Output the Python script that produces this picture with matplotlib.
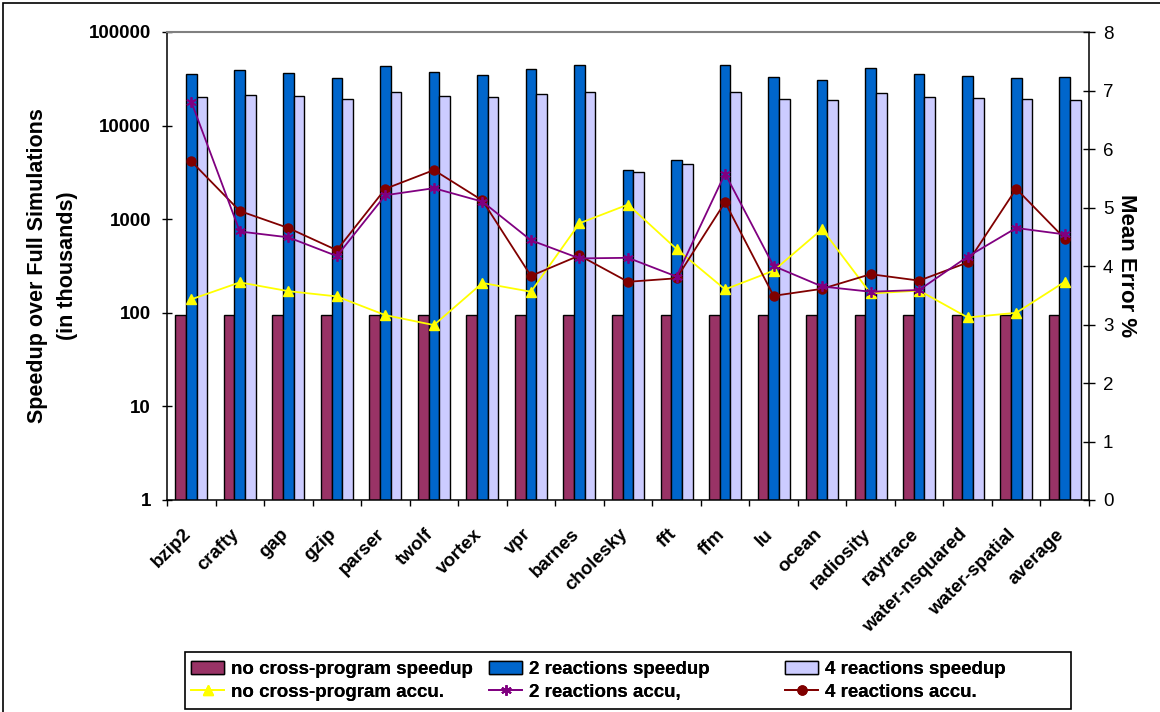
import matplotlib
matplotlib.use("Agg")
import matplotlib.pyplot as plt
import matplotlib.transforms as mtransforms
import numpy as np
from matplotlib.patches import Rectangle

plt.rcParams['font.family'] = ['Liberation Sans', 'DejaVu Sans']

benchmarks = ["bzip2", "crafty", "gap", "gzip", "parser", "twolf", "vortex", "vpr",
              "barnes", "cholesky", "fft", "ffm", "lu", "ocean", "radiosity",
              "raytrace", "water-nsquared", "water-spatial", "average"]

# speedup over full simulation (thousands), log scale
speedup_none = [95] * 19
speedup_2r = [35600, 39000, 36200, 32500, 43000, 37400, 35000, 40300, 44000, 3380,
              4260, 44400, 32800, 30500, 41600, 35600, 33900, 32000, 33300]
speedup_4r = [20400, 21400, 20600, 19400, 22700, 20900, 20200, 21800, 22900, 3170,
              3890, 23000, 19400, 18600, 22100, 20400, 19900, 19100, 18900]

# mean error %
accu_none = [3.43, 3.72, 3.57, 3.48, 3.16, 2.99, 3.71, 3.56, 4.73, 5.05,
             4.29, 3.60, 3.92, 4.63, 3.53, 3.58, 3.12, 3.20, 3.73]
accu_2r = [6.81, 4.59, 4.49, 4.17, 5.21, 5.33, 5.10, 4.44, 4.13, 4.14,
           3.82, 5.58, 4.00, 3.65, 3.56, 3.59, 4.16, 4.65, 4.54]
accu_4r = [5.79, 4.94, 4.65, 4.27, 5.32, 5.64, 5.12, 3.83, 4.18, 3.73,
           3.79, 5.09, 3.49, 3.61, 3.86, 3.75, 4.06, 5.32, 4.47]

C_NONE = "#993366"
C_2R = "#0066CC"
C_4R = "#CCCCFF"
L_NONE = "#FFFF00"
L_2R = "#800080"
L_4R = "#800000"

W, H = 1160, 712
fig = plt.figure(figsize=(W / 100, H / 100), dpi=100)
ax = fig.add_axes([167 / W, 1 - 500 / H, (1089 - 167) / W, (500 - 32) / H])

x = np.arange(len(benchmarks))
bw = 0.22
kw = dict(edgecolor="black", linewidth=1.0)
b1 = ax.bar(x - bw, speedup_none, bw, color=C_NONE, label="no cross-program speedup", **kw)
b2 = ax.bar(x, speedup_2r, bw, color=C_2R, label="2 reactions speedup", **kw)
b3 = ax.bar(x + bw, speedup_4r, bw, color=C_4R, label="4 reactions speedup", **kw)

ax.set_yscale("log")
ax.set_ylim(1, 100000)
ax.set_xlim(-0.5, len(benchmarks) - 0.5)
ax.set_yticks([1, 10, 100, 1000, 10000, 100000])
ax.set_yticklabels(["1", "10", "100", "1000", "10000", "100000"],
                   fontsize=13.5, fontweight="bold")
ax.yaxis.set_minor_locator(matplotlib.ticker.NullLocator())
ax.tick_params(axis="y", direction="inout", length=7, width=1, pad=8)

ax.set_xticks(np.arange(-0.5, len(benchmarks), 1.0))
ax.set_xticklabels([])
ax.tick_params(axis="x", which="major", direction="out", length=4.5, width=1)
ax.set_xticks(x, minor=True)
ax.set_xticklabels(benchmarks, minor=True, rotation=45, ha="right", va="top",
                   rotation_mode="anchor", fontsize=13.5, fontweight="bold")
ax.tick_params(axis="x", which="minor", length=0, pad=12)
shift = mtransforms.ScaledTranslation(-0.09, -0.09, fig.dpi_scale_trans)
for lab in ax.get_xticklabels(minor=True):
    lab.set_transform(lab.get_transform() + shift)

ax.set_ylabel("Speedup over Full Simulations\n(in thousands)", fontsize=15.5,
              fontweight="bold", labelpad=8, linespacing=1.55)

for s in ("left", "bottom", "right"):
    ax.spines[s].set_color("black")
    ax.spines[s].set_linewidth(1.1)
ax.spines["top"].set_color("#808080")
ax.spines["top"].set_linewidth(1.5)

ax2 = ax.twinx()
ax2.set_ylim(0, 8)
ax2.set_yticks(range(0, 9))
ax2.set_yticklabels([str(i) for i in range(9)], fontsize=13.5)
ax2.tick_params(axis="y", direction="inout", length=8, width=1, pad=6)
ax2.set_ylabel("Mean Error %", fontsize=16, fontweight="bold", rotation=270,
               labelpad=17)
for s in ax2.spines.values():
    s.set_visible(False)

l1, = ax2.plot(x, accu_none, color=L_NONE, lw=1.3, marker="^", ms=7,
               label="no cross-program accu.")
l3, = ax2.plot(x, accu_4r, color=L_4R, lw=1.3, marker="o", ms=6.5,
               label="4 reactions accu.")
l2, = ax2.plot(x, accu_2r, color=L_2R, lw=1.3, marker=(6, 2, 0), ms=7.5, mew=1.3,
               label="2 reactions accu,")

# legend: framed box with three columns of two entries each
fig.patches.append(Rectangle((185 / W, 1 - 709 / H), (1071 - 185) / W, (709 - 652) / H,
                             transform=fig.transFigure, fill=False,
                             edgecolor="black", linewidth=1.2, zorder=5))
columns = [((b1, l1), 191), ((b2, l2), 489), ((b3, l3), 785)]
for hs, xpix in columns:
    lg = fig.legend(list(hs), [h.get_label() for h in hs], loc="center left",
                    bbox_to_anchor=(xpix / W, 1 - 681 / H), frameon=False,
                    borderpad=0, borderaxespad=0, handlelength=1.76,
                    handletextpad=0.37, labelspacing=0.28,
                    prop=dict(size=13.5, weight="bold"))
    fig.add_artist(lg)

# outer border of the figure
fig.patches.append(Rectangle((3 / W, -0.05), 1.1, 1.05 - 3 / H,
                             transform=fig.transFigure, fill=False,
                             edgecolor="black", linewidth=1.2))

fig.savefig("out.png", dpi=100)
